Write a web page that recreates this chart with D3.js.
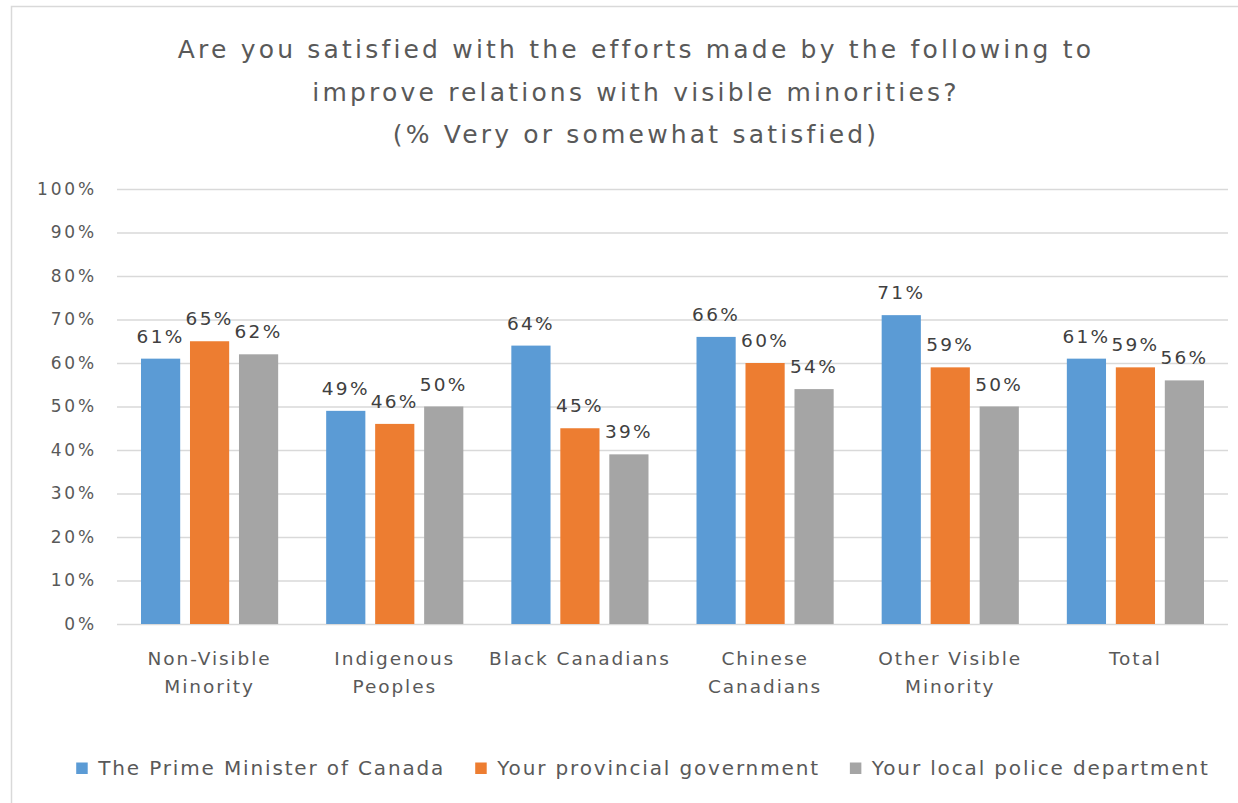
<!DOCTYPE html>
<html><head><meta charset="utf-8">
<script src="https://cdn.jsdelivr.net/npm/d3@7"></script>
<style>
html,body{margin:0;padding:0;background:#fff;}
svg{display:block;}
text{font-family:"DejaVu Sans",sans-serif;}
</style></head>
<body>
<svg id="chart" width="1238" height="803"></svg>
<script>
const titleLines = ["Are you satisfied with the efforts made by the following to",
                    "improve relations with visible minorities?",
                    "(% Very or somewhat satisfied)"];
const categories = [["Non-Visible","Minority"],["Indigenous","Peoples"],["Black Canadians"],
                    ["Chinese","Canadians"],["Other Visible","Minority"],["Total"]];
const seriesNames = ["The Prime Minister of Canada","Your provincial government","Your local police department"];
const primeMinister = [61,49,64,66,71,61];
const provincial    = [65,46,45,60,59,59];
const police        = [62,50,39,54,50,56];
const yTicks = [0,10,20,30,40,50,60,70,80,90,100];
const colors = ["#5b9bd5","#ed7d31","#a5a5a5"];

const series = [primeMinister, provincial, police];
const catKeys = categories.map(c => c.join(" "));
const svg = d3.select("#chart");

// frame
svg.append("rect").attr("x",11.5).attr("y",6.5).attr("width",1240).attr("height",810)
  .attr("fill","#fff").attr("stroke","#d9d9d9").attr("stroke-width",1.5);

const L = 117, R = 1228, T = 189, B = 624;
const x0 = d3.scaleBand().domain(catKeys).range([L,R]).paddingInner(0).paddingOuter(0);
const x1 = d3.scaleBand().domain([0,1,2]).range([0,x0.bandwidth()]).paddingInner(0.2).paddingOuter(0.49);
const y = d3.scaleLinear().domain([0,100]).range([B,T]);

// letter spacing to mimic a wide geometric face: fit a sample string to a target width
function spacing(sample, fs, target){
  const t = svg.append("text").attr("font-size",fs).text(sample);
  const w = t.node().getComputedTextLength(); t.remove();
  return Math.max(0,(target - w) / sample.length) + "px";
}
const lsTitle = spacing(titleLines[0], 25, 916);
const lsTick  = spacing("100%", 17, 60);
const lsLbl   = spacing("65%", 18.5, 48);
const lsCat   = spacing("Non-Visible", 18.5, 124);
const lsLeg   = spacing(seriesNames[0], 20, 347);

// gridlines + y axis
const yAxis = d3.axisLeft(y).tickValues(yTicks).tickSize(-(R-L)).tickFormat(d => d + "%").tickPadding(20);
const gy = svg.append("g").attr("transform",`translate(${L},0)`).call(yAxis);
gy.select(".domain").remove();
gy.selectAll(".tick line").attr("stroke","#d9d9d9").attr("stroke-width",1.3);
gy.selectAll(".tick text").attr("fill","#595959").attr("font-size",17)
  .attr("letter-spacing",lsTick).attr("font-family","DejaVu Sans");

// bars
const groups = svg.append("g").selectAll("g").data(catKeys).join("g")
  .attr("transform", d => `translate(${x0(d)},0)`);
groups.selectAll("rect").data((d,i) => series.map((s,j) => ({j, v:s[i]}))).join("rect")
  .attr("x", d => x1(d.j)).attr("width", x1.bandwidth())
  .attr("y", d => y(d.v)).attr("height", d => B - y(d.v))
  .attr("fill", d => colors[d.j]);
groups.selectAll("text.lbl").data((d,i) => series.map((s,j) => ({j, v:s[i]}))).join("text")
  .attr("class","lbl")
  .attr("x", d => x1(d.j) + x1.bandwidth()/2).attr("y", d => y(d.v) - 16)
  .attr("text-anchor","middle").attr("font-size",18.5).attr("fill","#404040")
  .attr("letter-spacing",lsLbl)
  .text(d => d.v + "%");

// x category labels
const gx = svg.append("g");
categories.forEach((lines,i) => {
  const t = gx.append("text").attr("text-anchor","middle").attr("font-size",18.5)
    .attr("fill","#595959").attr("letter-spacing",lsCat);
  lines.forEach((ln,k) => t.append("tspan").attr("x", x0(catKeys[i]) + x0.bandwidth()/2)
    .attr("y", 665 + k*28).text(ln));
});

// title
const tt = svg.append("text").attr("text-anchor","middle").attr("font-size",25)
  .attr("fill","#595959").attr("letter-spacing",lsTitle);
titleLines.forEach((ln,k) => tt.append("tspan").attr("x",636).attr("y",58 + k*42.5).text(ln));

// legend
const lg = svg.append("g");
const items = seriesNames.map((n,j) => {
  const g = lg.append("g");
  g.append("rect").attr("x",0).attr("y",-12.5).attr("width",11.5).attr("height",11.5).attr("fill",colors[j]);
  const t = g.append("text").attr("x",22).attr("y",0).attr("font-size",20).attr("fill","#595959")
    .attr("letter-spacing",lsLeg).text(n);
  return {g, w: 22 + t.node().getComputedTextLength()};
});
const gap = 30;
const total = d3.sum(items, d => d.w) + gap*(items.length-1);
let cx = 643 - total/2;
items.forEach(it => { it.g.attr("transform",`translate(${cx},775)`); cx += it.w + gap; });
</script>
</body></html>
